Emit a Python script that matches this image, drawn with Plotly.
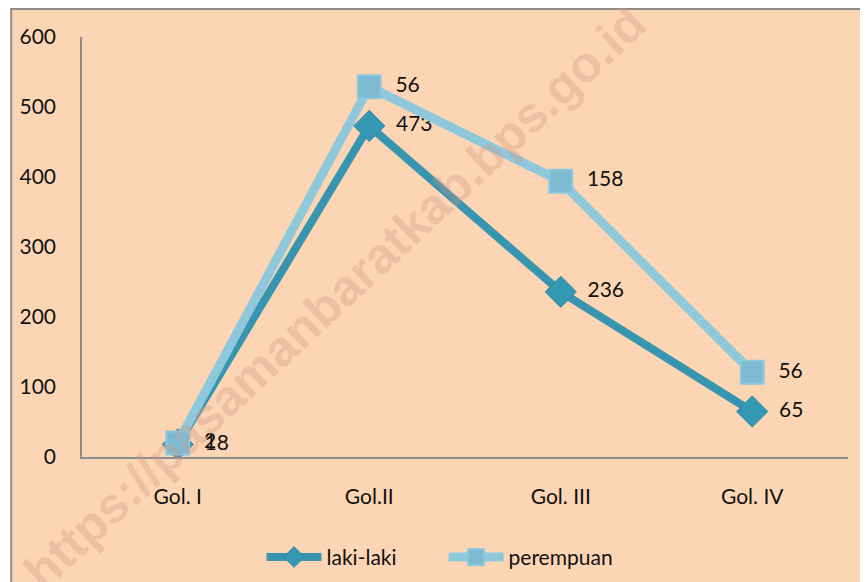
import plotly.graph_objects as go

categories = ["Gol. I", "Gol.II", "Gol. III", "Gol. IV"]
laki_laki = [18, 473, 236, 65]
perempuan = [2, 56, 158, 56]
y_ticks = [0, 100, 200, 300, 400, 500, 600]

stacked_perempuan = [a + b for a, b in zip(laki_laki, perempuan)]

FONT = "Lato, 'Liberation Sans', sans-serif"
PEACH = "#FCD5B5"
DARK = "#3795AF"
LIGHT = "#8FC7DB"

fig = go.Figure()
fig.add_trace(go.Scatter(
    x=categories, y=laki_laki, name="laki-laki", mode="lines+markers+text",
    line=dict(color=DARK, width=8),
    marker=dict(symbol="diamond", size=24, color="#3498B3", line=dict(color="#2E8AA3", width=1)),
    text=["  " + str(v) for v in laki_laki], textposition="middle right",
    textfont=dict(family=FONT, size=21, color="#111"),
))
fig.add_trace(go.Scatter(
    x=categories, y=stacked_perempuan, name="perempuan", mode="lines+markers+text",
    line=dict(color=LIGHT, width=9),
    marker=dict(symbol="square", size=23, color="#7EBBD3", line=dict(color="#8CC9DE", width=2)),
    text=["  " + str(v) for v in perempuan], textposition="middle right",
    textfont=dict(family=FONT, size=21, color="#111"),
))

# figure geometry (page is offset by 8px body margin)
W, H = 868, 582
L, R, T, B = 72, 28, 29, 132
pw, ph = W - L - R, H - T - B

fig.add_shape(type="rect", xref="paper", yref="paper", layer="below",
              x0=(1 - L) / pw, x1=(W + 10 - L) / pw,
              y0=(H - B - (H + 10)) / ph, y1=(H - B - 1) / ph,
              fillcolor=PEACH, line=dict(color="#8C8C8C", width=2))

fig.add_annotation(text="https://pasamanbaratkab.bps.go.id", xref="paper", yref="paper",
                   x=(326 - L) / pw, y=(H - B - 290) / ph, showarrow=False,
                   textangle=-43, font=dict(family="'Liberation Sans', Arial, sans-serif",
                                            size=50, color="rgba(205,150,130,0.33)",
                                            weight="bold"),
                   xanchor="center", yanchor="middle")

fig.update_layout(
    width=W, height=H,
    margin=dict(l=L, r=R, t=T, b=B),
    paper_bgcolor="white", plot_bgcolor="rgba(0,0,0,0)",
    font=dict(family=FONT, size=21, color="#111"),
    showlegend=True,
    legend=dict(orientation="h", x=(252 - L) / pw, xanchor="left", y=-0.19, yanchor="top",
                font=dict(family=FONT, size=21, color="#111"), itemwidth=55,
                entrywidth=112, entrywidthmode="pixels",
                bgcolor="rgba(0,0,0,0)", traceorder="normal"),
    xaxis=dict(range=[-0.5, 3.5], showgrid=False, zeroline=False, showline=True,
               linecolor="#8C8C8C", linewidth=1.5, ticks="", ticklabelstandoff=20,
               tickfont=dict(family=FONT, size=21, color="#111")),
    yaxis=dict(range=[0, 600], tickvals=y_ticks, showgrid=False, zeroline=False,
               showline=True, linecolor="#8C8C8C", linewidth=1.5, ticks="",
               ticklabelstandoff=20, tickfont=dict(family=FONT, size=21, color="#111")),
)

fig.write_html("out.html")
